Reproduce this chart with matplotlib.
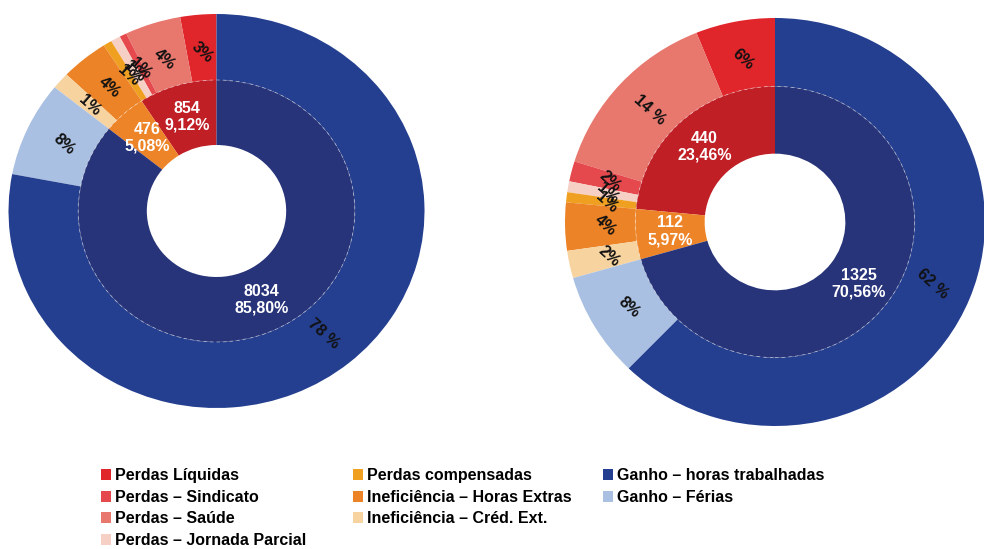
import numpy as np
import matplotlib
matplotlib.use("Agg")
import matplotlib.pyplot as plt
from matplotlib.patches import Patch, Circle

plt.rcParams['font.family'] = ['Liberation Sans', 'DejaVu Sans']

# categories (outer ring, counterclockwise from 12 o'clock)
categories = ['Perdas Líquidas', 'Perdas – Saúde', 'Perdas – Sindicato',
              'Perdas – Jornada Parcial', 'Perdas compensadas',
              'Ineficiência – Horas Extras', 'Ineficiência – Créd. Ext.',
              'Ganho – Férias', 'Ganho – horas trabalhadas']
cat_colors = ['#E0262B', '#E8776E', '#E5484D', '#F6CFC5', '#F0A020',
              '#EC8326', '#F7D3A0', '#A9C0E2', '#243F8F']

# outer ring shares (%)
left_outer = [2.8, 4.35, 0.55, 0.75, 0.67, 3.7, 1.38, 7.8, 78.0]
right_outer = [6.1, 14.1, 1.6, 0.86, 0.8, 3.8, 2.17, 8.3, 62.26]

# inner ring: perdas / ineficiencia / ganho
inner_colors = ['#C01F26', '#EE8428', '#283479']
left_counts = [854, 476, 8034]
left_pct = [9.12, 5.08, 85.80]
right_counts = [440, 112, 1325]
right_pct = [23.46, 5.97, 70.56]


def donut(ax, outer, counts, pct):
    wedges, _ = ax.pie(outer, radius=1.0, colors=cat_colors, startangle=90,
                       counterclock=True, wedgeprops=dict(width=0.335, linewidth=0))
    for w, v in zip(wedges, outer):
        a = np.deg2rad((w.theta1 + w.theta2) / 2)
        r = 0.81
        s = f"{v:.0f} %" if v >= 10 else f"{v:.0f}%"
        ax.text(r * np.cos(a), r * np.sin(a), s, ha='center', va='center',
                rotation=-42, fontsize=11.5, fontweight='bold', color='#111111')

    wedges, _ = ax.pie(pct, radius=0.665, colors=inner_colors, startangle=90,
                       counterclock=True, wedgeprops=dict(width=0.33, linewidth=0))
    for w, c, p in zip(wedges, counts, pct):
        a = np.deg2rad((w.theta1 + w.theta2) / 2)
        r = 0.5
        s = f"{c}\n{p:.2f}%".replace('.', ',')
        ax.text(r * np.cos(a), r * np.sin(a), s, ha='center', va='center',
                fontsize=11.5, fontweight='bold', color='white', linespacing=1.15)

    ax.add_patch(Circle((0, 0), 0.665, fill=False, ec='white', lw=0.6,
                        ls=(0, (4, 4)), alpha=0.5))
    ax.set_aspect('auto')
    ax.set_xlim(-1, 1)
    ax.set_ylim(-1, 1)
    ax.axis('off')


fig = plt.figure(figsize=(9.84, 5.49), dpi=100)
ax1 = fig.add_axes([8.5 / 984, (549 - 408) / 549, 416 / 984, 394 / 549])
ax2 = fig.add_axes([565 / 984, (549 - 426) / 549, 420 / 984, 408 / 549])
donut(ax1, left_outer, left_counts, left_pct)
donut(ax2, right_outer, right_counts, right_pct)

# legend in three columns
col_order = [
    ['Perdas Líquidas', 'Perdas – Sindicato', 'Perdas – Saúde', 'Perdas – Jornada Parcial'],
    ['Perdas compensadas', 'Ineficiência – Horas Extras', 'Ineficiência – Créd. Ext.'],
    ['Ganho – horas trabalhadas', 'Ganho – Férias'],
]
col_x = [101, 353, 603]
for names, x in zip(col_order, col_x):
    handles = [Patch(facecolor=cat_colors[categories.index(n)], edgecolor='none', label=n)
               for n in names]
    fig.legend(handles=handles, loc='upper left',
               bbox_to_anchor=(x / 984, (549 - 468) / 549),
               frameon=False, prop=dict(size=11.5, weight='bold'),
               handlelength=0.6, handleheight=0.7,
               handletextpad=0.3, labelspacing=0.42, borderpad=0, borderaxespad=0)

fig.savefig('out.png', dpi=100)
